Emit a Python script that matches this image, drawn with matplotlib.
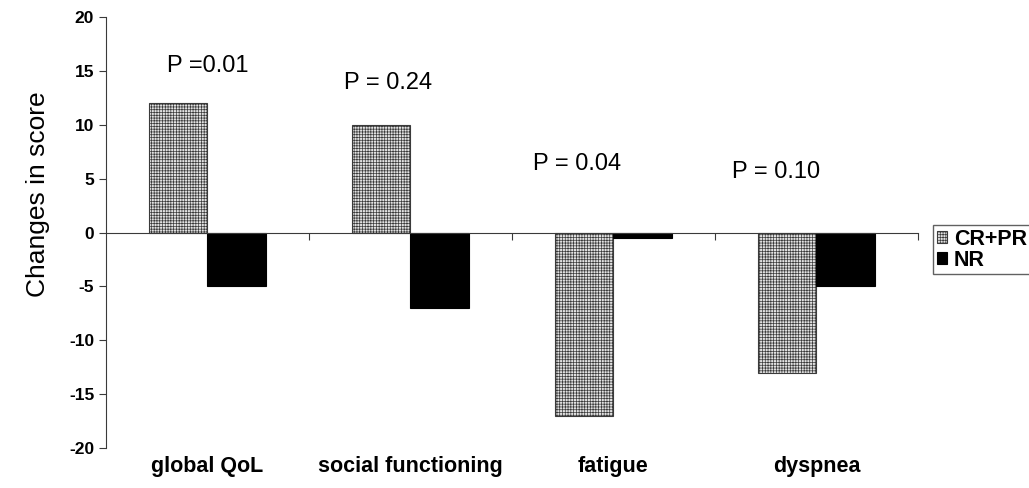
import matplotlib.pyplot as plt
import matplotlib.transforms as mtransforms
import numpy as np

# Mean change in QoL scores by response group
categories = ["global QoL", "social functioning", "fatigue", "dyspnea"]
responders = [12, 10, -17, -13]      # CR+PR
non_responders = [-5, -7, -0.5, -5]  # NR
p_labels = ["P =0.01", "P = 0.24", "P = 0.04", "P = 0.10"]
p_label_pos = [(0.0, 15.5), (0.89, 13.9), (1.82, 6.4), (2.80, 5.6)]

plt.rcParams['font.family'] = ['Liberation Sans', 'DejaVu Sans']
plt.rcParams['axes.unicode_minus'] = False
plt.rcParams['hatch.linewidth'] = 0.5
plt.rcParams['hatch.color'] = '#c8c8c8'

fig = plt.figure(figsize=(10.29, 4.88), dpi=100)
ax = fig.add_axes([0.103, 0.082, 0.789, 0.883])

x = np.arange(len(categories))
w = 0.29
ax.bar(x - w / 2, responders, w, color='#e2e2e2', edgecolor='#3a3a3a',
       linewidth=0.8, hatch='++++++', label='CR+PR')
ax.bar(x + w / 2, non_responders, w, color='black', edgecolor='black',
       linewidth=0.8, label='NR')

ax.set_xlim(-0.5, 3.5)
ax.set_ylim(-20, 20)

# axis lines: y axis on the left, x axis through zero
for side in ['top', 'right']:
    ax.spines[side].set_visible(False)
ax.spines['bottom'].set_position(('data', 0))
ax.spines['left'].set_color('#3a3a3a')
ax.spines['bottom'].set_color('#3a3a3a')

ax.set_xticks([0.5, 1.5, 2.5, 3.5])
ax.set_xticklabels([])
ax.tick_params(axis='x', direction='out', length=5, color='#3a3a3a')
ax.set_yticks(range(-20, 21, 5))
ax.tick_params(axis='y', direction='out', length=5, color='#3a3a3a',
               labelsize=12.5)
for lbl in ax.get_yticklabels():
    lbl.set_fontweight('bold')

ax.set_ylabel("Changes in score", fontsize=19)
ax.yaxis.set_label_coords(-0.069, 0.589)

# category names below the plot
trans = mtransforms.blended_transform_factory(ax.transData, ax.transAxes)
for xi, name in zip(x, categories):
    ax.text(xi, -0.043, name, transform=trans, ha='center', va='center',
            fontsize=15.5, fontweight='bold')

for txt, (px, py) in zip(p_labels, p_label_pos):
    ax.text(px, py, txt, ha='center', va='center', fontsize=17)

leg = fig.legend(loc='upper left', bbox_to_anchor=(0.907, 0.538),
                 prop={'weight': 'bold', 'size': 15.5},
                 handlelength=0.5, handleheight=0.5, handletextpad=0.3,
                 labelspacing=0.0, borderpad=0.15, fancybox=False,
                 frameon=True, borderaxespad=0)
leg.get_frame().set_edgecolor('#3a3a3a')
leg.get_frame().set_linewidth(1.0)

fig.savefig('out.png', dpi=100)
